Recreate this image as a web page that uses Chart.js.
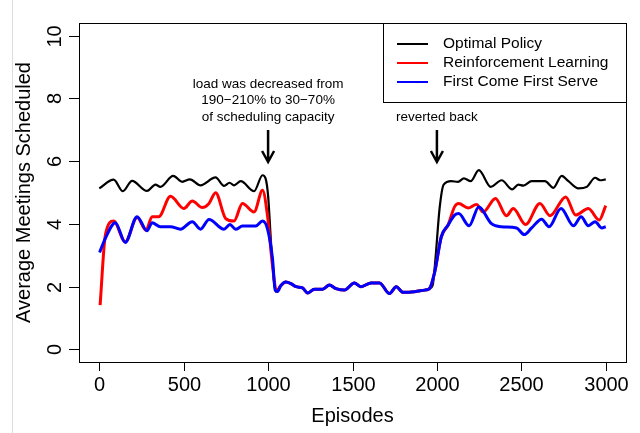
<!DOCTYPE html>
<html lang="en">
<head>
    <meta charset="UTF-8">
    <title>Average Meetings Scheduled</title>
    <style>
        body {
            margin: 0;
            background-color: white;
        }
        #chart {
            display: block;
        }
    </style>
</head>
<body>
    <canvas id="chart" width="640" height="433"></canvas>

    <script src="https://cdn.jsdelivr.net/npm/chart.js"></script>
    <script>
        // Tick labels
        const xTicks = [0, 500, 1000, 1500, 2000, 2500, 3000];
        const yTicks = [0, 2, 4, 6, 8, 10];

        // Optimal Policy
        const opEp = [0, 85, 140, 194, 283, 333, 362, 438, 491, 537, 600, 689, 739, 772, 798, 838, 917, 967, 985, 1000, 1020, 1046,
            1075, 1105, 1135, 1165, 1204, 1234, 1274, 1323, 1363, 1402, 1452, 1511, 1551, 1610, 1660, 1719, 1759, 1799, 1868, 1927, 1956,
            1975, 1990, 2016, 2040, 2085, 2125, 2160, 2200, 2248, 2319, 2383, 2446, 2482, 2512, 2561, 2640, 2690, 2739, 2779, 2838, 2888, 2937, 2967, 3000];
        const opVal = [5.13, 5.41, 5.04, 5.37, 5.05, 5.25, 5.18, 5.53, 5.34, 5.42, 5.23, 5.48, 5.21, 5.31, 5.23, 5.36, 5.04, 5.55, 5.45, 4.9, 3.2, 1.84,
            2.03, 2.15, 2.10, 2.00, 1.96, 1.80, 1.92, 1.92, 2.05, 1.94, 1.89, 2.12, 2.00, 2.12, 2.12, 1.78, 2.00, 1.82, 1.84, 1.89, 1.94,
            2.05, 2.8, 4.5, 5.25, 5.36, 5.34, 5.45, 5.36, 5.71, 5.18, 5.39, 5.1, 5.25, 5.22, 5.36, 5.36, 5.15, 5.53, 5.36, 5.13, 5.18, 5.47, 5.39, 5.42];

        // Reinforcement Learning
        const rlEp = [5, 36, 85, 154, 224, 277, 313, 352, 422, 501, 551, 610, 650, 689, 749, 798, 848, 917, 967, 996, 1026, 1050,
            1075, 1105, 1135, 1165, 1204, 1234, 1274, 1323, 1363, 1402, 1452, 1511, 1551, 1610, 1660, 1719, 1759, 1799, 1868, 1927, 1956,
            1987, 2026, 2066, 2105, 2129, 2185, 2234, 2274, 2347, 2412, 2452, 2525, 2610, 2670, 2763, 2822, 2897, 2961, 3000];
        const rlVal = [1.41, 3.64, 4.09, 3.43, 4.2, 3.8, 4.23, 4.23, 4.88, 4.49, 4.73, 4.52, 4.65, 4.99, 4.17, 4.09, 4.65, 4.38, 5.07, 4.28, 2.68, 1.85,
            2.03, 2.15, 2.10, 2.00, 1.96, 1.80, 1.92, 1.92, 2.05, 1.94, 1.89, 2.12, 2.00, 2.12, 2.12, 1.78, 2.00, 1.82, 1.84, 1.89, 1.94,
            2.47, 3.59, 3.96, 4.55, 4.65, 4.51, 4.62, 4.38, 4.81, 4.26, 4.49, 3.98, 4.65, 4.26, 4.86, 4.28, 4.49, 4.12, 4.58];

        // First Come First Serve
        const fcEp = [2, 36, 95, 154, 224, 283, 313, 362, 422, 481, 551, 600, 650, 739, 774, 808, 848, 927, 967, 996, 1026, 1042, 1056,
            1075, 1105, 1135, 1165, 1204, 1234, 1274, 1323, 1363, 1402, 1452, 1511, 1551, 1610, 1660, 1719, 1759, 1799, 1868, 1927, 1956,
            1987, 2026, 2066, 2105, 2129, 2191, 2248, 2323, 2383, 2472, 2517, 2561, 2620, 2664, 2735, 2809, 2854, 2897, 2937, 2977, 3000];
        const fcVal = [3.09, 3.54, 4.04, 3.41, 4.23, 3.78, 4.04, 3.91, 3.91, 3.83, 4.07, 3.83, 4.14, 3.83, 3.98, 3.83, 3.93, 3.93, 4.09, 3.85, 2.9, 1.89, 1.85,
            2.03, 2.15, 2.10, 2.00, 1.96, 1.80, 1.92, 1.92, 2.05, 1.94, 1.89, 2.12, 2.00, 2.12, 2.12, 1.78, 2.00, 1.82, 1.84, 1.89, 1.94,
            2.47, 3.59, 3.96, 4.28, 4.33, 3.94, 4.54, 4.01, 3.91, 3.87, 3.66, 3.87, 4.15, 3.91, 4.49, 3.94, 4.23, 3.94, 4.07, 3.87, 3.91];

        const FONT = '"Liberation Sans", Arial, sans-serif';

        function toPoints(xs, ys) {
            return xs.map((x, i) => ({ x: x, y: ys[i] }));
        }

        // Draws the R-style frame, axes, legend and notes
        const frame = {
            id: 'frame',
            afterDraw(chart) {
                const ctx = chart.ctx;
                const area = chart.chartArea;
                const xs = chart.scales.x;
                const ys = chart.scales.y;
                ctx.save();

                // faint page border on the left
                ctx.strokeStyle = '#dddddd';
                ctx.lineWidth = 1;
                ctx.beginPath();
                ctx.moveTo(12.5, 0);
                ctx.lineTo(12.5, 433);
                ctx.stroke();

                // box
                ctx.strokeStyle = '#000';
                ctx.lineWidth = 1;
                ctx.strokeRect(area.left + 0.5, area.top + 0.5, area.right - area.left, area.bottom - area.top);

                // x axis ticks and labels
                ctx.fillStyle = '#000';
                ctx.font = '20px ' + FONT;
                ctx.textAlign = 'center';
                ctx.textBaseline = 'middle';
                xTicks.forEach(t => {
                    const px = Math.round(xs.getPixelForValue(t)) + 0.5;
                    ctx.beginPath();
                    ctx.moveTo(px, area.bottom);
                    ctx.lineTo(px, area.bottom + 9);
                    ctx.stroke();
                    ctx.fillText(String(t), px, area.bottom + 23);
                });
                ctx.fillText('Episodes', (area.left + area.right) / 2, 416);

                // y axis ticks and rotated labels
                yTicks.forEach(t => {
                    const py = Math.round(ys.getPixelForValue(t)) + 0.5;
                    ctx.beginPath();
                    ctx.moveTo(area.left, py);
                    ctx.lineTo(area.left - 10, py);
                    ctx.stroke();
                    ctx.save();
                    ctx.translate(area.left - 24, py);
                    ctx.rotate(-Math.PI / 2);
                    ctx.fillText(String(t), 0, 0);
                    ctx.restore();
                });
                ctx.save();
                ctx.translate(24, (area.top + area.bottom) / 2);
                ctx.rotate(-Math.PI / 2);
                ctx.fillText('Average Meetings Scheduled', 0, 0);
                ctx.restore();

                // legend
                const lx = 383, ly = area.top, lw = area.right - lx, lh = 79;
                ctx.fillStyle = '#fff';
                ctx.fillRect(lx, ly, lw, lh);
                ctx.strokeRect(lx + 0.5, ly + 0.5, lw, lh);
                const entries = [
                    ['Optimal Policy', '#000000', 44],
                    ['Reinforcement Learning', '#ff0000', 63],
                    ['First Come First Serve', '#0000ff', 82]
                ];
                ctx.font = '15.5px ' + FONT;
                ctx.textAlign = 'left';
                entries.forEach(e => {
                    ctx.strokeStyle = e[1];
                    ctx.lineWidth = 2;
                    ctx.beginPath();
                    ctx.moveTo(397, e[2]);
                    ctx.lineTo(428, e[2]);
                    ctx.stroke();
                    ctx.fillStyle = '#000';
                    ctx.fillText(e[0], 443, e[2]);
                });

                // annotations
                ctx.font = '13.5px ' + FONT;
                ctx.textAlign = 'center';
                const ax1 = xs.getPixelForValue(1000);
                const ax2 = xs.getPixelForValue(2000);
                ctx.fillText('load was decreased from', ax1, 84);
                ctx.fillText('190\u2212210% to 30\u221270%', ax1, 100);
                ctx.fillText('of scheduling capacity', ax1, 117);
                ctx.fillText('reverted back', ax2, 117);

                ctx.strokeStyle = '#000';
                ctx.lineWidth = 2.5;
                [ax1, ax2].forEach(ax => {
                    ctx.beginPath();
                    ctx.moveTo(ax, 130);
                    ctx.lineTo(ax, 162);
                    ctx.moveTo(ax - 6, 151);
                    ctx.lineTo(ax, 162);
                    ctx.lineTo(ax + 6, 151);
                    ctx.stroke();
                });

                ctx.restore();
            }
        };

        new Chart(document.getElementById('chart'), {
            type: 'line',
            data: {
                datasets: [
                    { label: 'First Come First Serve', data: toPoints(fcEp, fcVal), borderColor: '#0000ff', borderWidth: 3, order: 1 },
                    { label: 'Reinforcement Learning', data: toPoints(rlEp, rlVal), borderColor: '#ff0000', borderWidth: 3, order: 2 },
                    { label: 'Optimal Policy', data: toPoints(opEp, opVal), borderColor: '#000000', borderWidth: 2.2, order: 3 }
                ]
            },
            options: {
                responsive: false,
                animation: false,
                devicePixelRatio: 1,
                layout: { padding: { left: 79, top: 23, right: 14, bottom: 71 } },
                elements: {
                    point: { radius: 0 },
                    line: { cubicInterpolationMode: 'monotone', fill: false }
                },
                plugins: {
                    legend: { display: false },
                    tooltip: { enabled: false }
                },
                scales: {
                    x: { type: 'linear', min: -120, max: 3120, display: false },
                    y: { type: 'linear', min: -0.4, max: 10.4, display: false }
                }
            },
            plugins: [frame]
        });
    </script>
</body>
</html>
